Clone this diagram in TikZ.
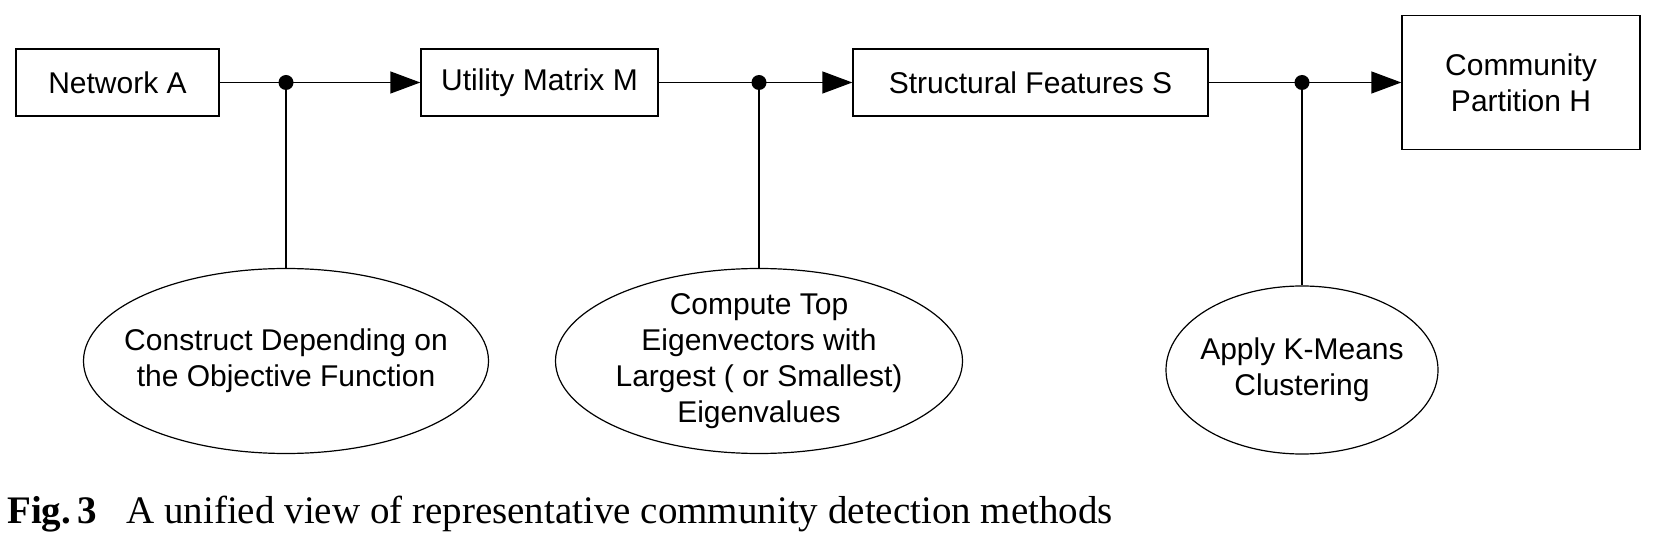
\documentclass[tikz,border=0pt]{standalone}
\usepackage{fontspec}
\setmainfont{Liberation Sans}
\newfontfamily\capfont{Liberation Serif}
\usetikzlibrary{arrows.meta,shapes.geometric}
\tikzset{
  blk/.style={draw, line width=1.4pt, rectangle, inner sep=0pt, align=center, font=\fontsize{30}{36}\selectfont},
  ell/.style={draw, line width=1.2pt, ellipse, inner sep=-60pt, align=center, font=\fontsize{30}{36}\selectfont},
  junc/.style={circle, fill=black, inner sep=0pt, minimum size=15pt},
  conn/.style={line width=1.4pt},
  arr/.style={line width=1.4pt, -{Triangle[length=30pt,width=22pt]}},
}
\begin{document}
\begin{tikzpicture}[x=1pt,y=-1pt]
\useasboundingbox (0,0) rectangle (1662,534);
\node[blk, minimum width=203pt, minimum height=67pt] (net) at (117.5,82.5) {Network A};
\node[blk, minimum width=237pt, minimum height=67pt] (util) at (539.5,82.5) {Utility Matrix M};
\node[blk, minimum width=355pt, minimum height=67pt] (feat) at (1030.5,82.5) {Structural Features S};
\node[blk, minimum width=238pt, minimum height=134pt] (comm) at (1521,82.5) {Community\\Partition H};
\node[junc] (d1) at (286,82.5) {};
\node[junc] (d2) at (759,82.5) {};
\node[junc] (d3) at (1302,82.5) {};
\node[ell, minimum width=405pt, minimum height=185pt] (e1) at (286,361) {Construct Depending on\\the Objective Function};
\node[ell, minimum width=407pt, minimum height=185pt] (e2) at (759,361) {Compute Top\\Eigenvectors with\\Largest ( or Smallest)\\Eigenvalues};
\node[ell, minimum width=272pt, minimum height=168pt] (e3) at (1302,370) {Apply K-Means\\Clustering};
\draw[conn] (net.east) -- (d1.center);
\draw[arr] (d1.center) -- (util.west);
\draw[conn] (d1.center) -- (e1.north);
\draw[conn] (util.east) -- (d2.center);
\draw[arr] (d2.center) -- (feat.west);
\draw[conn] (d2.center) -- (e2.north);
\draw[conn] (feat.east) -- (d3.center);
\draw[arr] (d3.center) -- (comm.west);
\draw[conn] (d3.center) -- (e3.north);
\node[anchor=base west, inner sep=0pt, font=\capfont\fontsize{39}{44}\selectfont] (cap) at (7,523) {\textbf{Fig.\,3}\hspace{0.75em}A unified view of representative community detection methods};
\end{tikzpicture}
\end{document}
